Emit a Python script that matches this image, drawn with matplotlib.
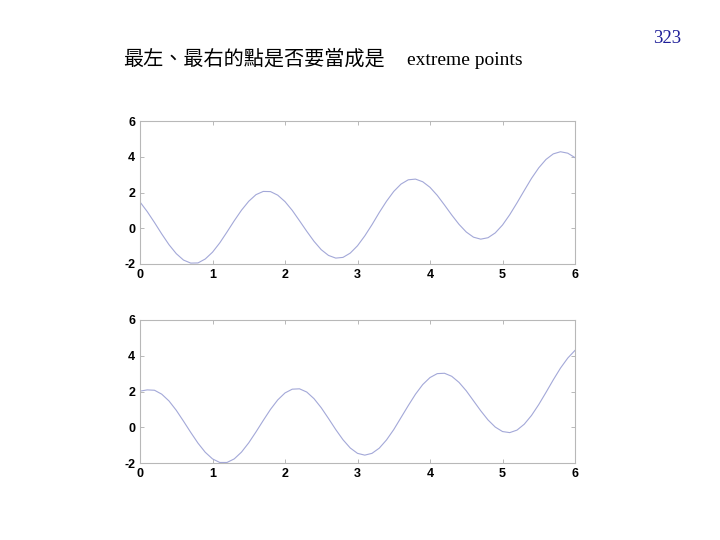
import matplotlib
matplotlib.use("Agg")
import matplotlib.pyplot as plt

# ---- data ----
x_vals = [round(i * 0.1, 1) for i in range(61)]

top_y = [1.47, 0.93, 0.32, -0.32, -0.92, -1.42, -1.78, -1.95, -1.94, -1.72,
         -1.34, -0.82, -0.21, 0.42, 1.01, 1.51, 1.88, 2.06, 2.05, 1.85,
         1.49, 1.00, 0.42, -0.17, -0.73, -1.20, -1.52, -1.67, -1.63, -1.39,
         -0.98, -0.43, 0.20, 0.88, 1.51, 2.06, 2.47, 2.71, 2.75, 2.60,
         2.29, 1.84, 1.30, 0.74, 0.22, -0.21, -0.50, -0.61, -0.53, -0.26,
         0.18, 0.76, 1.42, 2.11, 2.79, 3.38, 3.85, 4.16, 4.28, 4.20,
         3.95]

bottom_y = [2.02, 2.09, 2.07, 1.85, 1.47, 0.95, 0.34, -0.29, -0.89, -1.40,
            -1.77, -1.97, -1.97, -1.77, -1.39, -0.87, -0.26, 0.38, 1.00, 1.53,
            1.92, 2.13, 2.15, 1.97, 1.60, 1.09, 0.49, -0.13, -0.70, -1.16,
            -1.46, -1.56, -1.46, -1.17, -0.71, -0.13, 0.54, 1.21, 1.85, 2.39,
            2.78, 3.00, 3.02, 2.85, 2.51, 2.04, 1.48, 0.92, 0.41, 0.01,
            -0.24, -0.30, -0.16, 0.17, 0.66, 1.27, 1.95, 2.65, 3.31, 3.87,
            4.30]

x_ticks = [0, 1, 2, 3, 4, 5, 6]
y_ticks = [-2, 0, 2, 4, 6]

title_cn = "最左、最右的點是否要當成是"
title_en = "extreme points"
page_no = "323"

# ---- figure ----
fig = plt.figure(figsize=(7.2, 5.4), dpi=100)
fig.patch.set_facecolor("white")

line_color = "#a3a8d8"
frame_color = "#b8b8b8"

W, H = 720.0, 540.0
ax_left = 140 / W
ax_width = 435 / W
ax_height = 143 / H

axes = [
    fig.add_axes([ax_left, 1 - 264 / H, ax_width, ax_height]),
    fig.add_axes([ax_left, 1 - 463 / H, ax_width, ax_height]),
]

for ax, ys in zip(axes, [top_y, bottom_y]):
    ax.plot(x_vals, ys, color=line_color, linewidth=0.8)
    ax.set_xlim(0, 6)
    ax.set_ylim(-2, 6)
    ax.set_xticks(x_ticks)
    ax.set_yticks(y_ticks)
    ax.set_xticklabels([str(t) for t in x_ticks])
    ax.set_yticklabels([str(t) for t in y_ticks])
    for sp in ax.spines.values():
        sp.set_color(frame_color)
        sp.set_linewidth(0.8)
    ax.tick_params(axis="both", direction="in", length=3, width=0.7,
                   color=frame_color, top=True, right=True,
                   labelsize=9, labelcolor="black")
    ax.tick_params(axis="x", pad=3.5)
    ax.tick_params(axis="y", pad=3.5)
    for lab in ax.get_xticklabels() + ax.get_yticklabels():
        lab.set_family("Liberation Sans")
        lab.set_fontweight("bold")

# ---- texts ----
fig.text(123 / W, 1 - 65 / H, title_cn, fontsize=14.5,
         family=["Noto Sans CJK TC", "DejaVu Sans"], va="baseline", ha="left",
         color="black")
fig.text(407 / W, 1 - 65 / H, title_en, fontsize=14,
         family="Liberation Serif", va="baseline", ha="left", color="black")
fig.text(681 / W, 1 - 43 / H, page_no, fontsize=13.5,
         family="Liberation Serif", va="baseline", ha="right", color="#1f1f99")

fig.savefig("out.png", dpi=100, facecolor="white")
